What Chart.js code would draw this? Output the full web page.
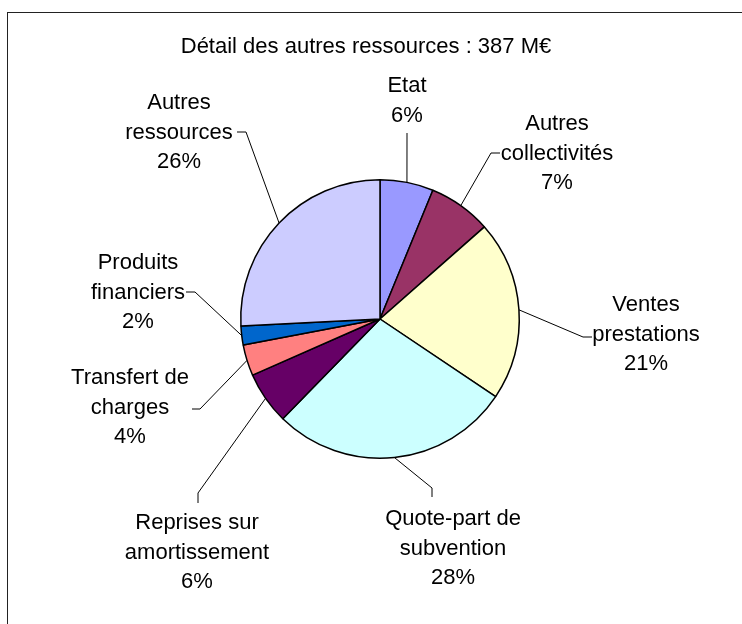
<!DOCTYPE html>
<html>
<head>
<meta charset="utf-8">
<script src="https://cdn.jsdelivr.net/npm/chart.js@4"></script>
<style>
  body { margin: 0; background: #fff; }
  #wrap { position: relative; width: 742px; height: 624px; overflow: hidden; }
  #frame { position: absolute; left: 7px; top: 12px; width: 800px; height: 700px;
           border-top: 1px solid #222; border-left: 1px solid #222; }
  canvas { position: absolute; left: 0; top: 0; }
</style>
</head>
<body>
<div id="wrap">
  <div id="frame"></div>
  <canvas id="pieChart" width="742" height="624"></canvas>
</div>
<script>
// data (share of 387 M€, in %)
const titleText = "Détail des autres ressources : 387 M€";
const categories = [
  ["Etat"],
  ["Autres", "collectivités"],
  ["Ventes", "prestations"],
  ["Quote-part de", "subvention"],
  ["Reprises sur", "amortissement"],
  ["Transfert de", "charges"],
  ["Produits", "financiers"],
  ["Autres", "ressources"]
];
const shares = [6.2, 7.3, 20.9, 27.9, 6.1, 3.6, 2.2, 25.8];
const sliceColors = ["#9999FF", "#993366", "#FFFFCC", "#CCFFFF", "#660066", "#FF8080", "#0066CC", "#CCCCFF"];

// where each label sits and how its leader line bends (page layout)
const labelLayout = [
  { x: 407, y: 86,  path: [[407, 133]] },
  { x: 557, y: 124, path: [[491, 153], [500, 153]] },
  { x: 646, y: 305, path: [[583, 337], [592, 337]] },
  { x: 453, y: 519, path: [[432, 488], [432, 497]] },
  { x: 197, y: 523, path: [[198, 493], [198, 503]] },
  { x: 130, y: 378, path: [[200, 409], [192, 409]] },
  { x: 138, y: 263, path: [[195, 292], [186, 292]] },
  { x: 179, y: 103, path: [[246, 132], [237, 132]] }
];
const FONT = '22px "Liberation Sans", Arial, sans-serif';
const LINE_H = 29.5;

const labelPlugin = {
  id: "labelPlugin",
  afterDatasetsDraw(chart) {
    const ctx = chart.ctx;
    const meta = chart.getDatasetMeta(0);
    const total = shares.reduce((a, b) => a + b, 0);
    ctx.save();
    ctx.font = FONT;
    ctx.fillStyle = "#000";
    ctx.textAlign = "center";
    ctx.textBaseline = "middle";
    ctx.fillText(titleText, 366, 47);

    meta.data.forEach((arc, i) => {
      const p = arc.getProps(["x", "y", "startAngle", "endAngle", "outerRadius"], true);
      const mid = (p.startAngle + p.endAngle) / 2;
      const sx = p.x + Math.cos(mid) * p.outerRadius;
      const sy = p.y + Math.sin(mid) * p.outerRadius;
      const lay = labelLayout[i];

      ctx.strokeStyle = "#000";
      ctx.lineWidth = 1;
      ctx.beginPath();
      ctx.moveTo(sx, sy);
      lay.path.forEach(pt => ctx.lineTo(pt[0], pt[1]));
      ctx.stroke();

      const lines = categories[i].concat([Math.round(shares[i] / total * 100) + "%"]);
      lines.forEach((t, k) => ctx.fillText(t, lay.x, lay.y + k * LINE_H));
    });
    ctx.restore();
  }
};

new Chart(document.getElementById("pieChart"), {
  type: "pie",
  data: {
    labels: categories.map(c => c.join(" ")),
    datasets: [{
      data: shares,
      backgroundColor: sliceColors,
      borderColor: "#000",
      borderWidth: 1.5,
      hoverOffset: 0
    }]
  },
  options: {
    responsive: false,
    animation: false,
    events: [],
    layout: { padding: { left: 240, right: 222, top: 179, bottom: 165 } },
    plugins: {
      legend: { display: false },
      tooltip: { enabled: false },
      title: { display: false }
    }
  },
  plugins: [labelPlugin]
});
</script>
</body>
</html>
